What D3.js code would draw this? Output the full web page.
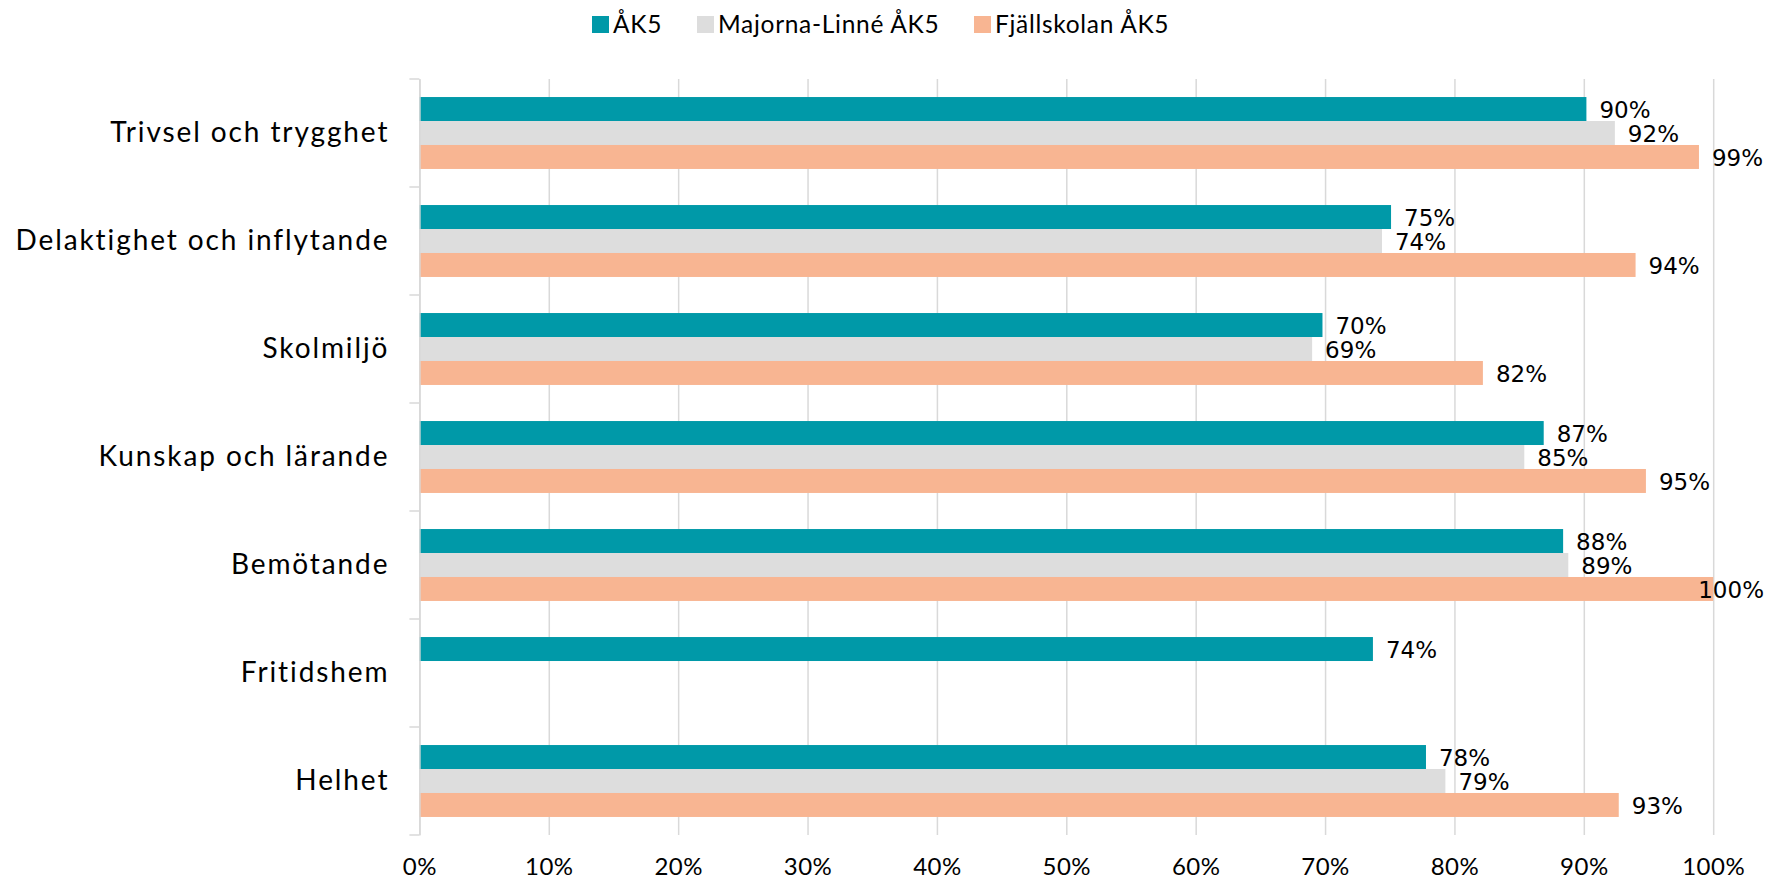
<!DOCTYPE html>
<html>
<head>
<meta charset="utf-8">
<script src="https://cdn.jsdelivr.net/npm/d3@7"></script>
<style>
  body { margin: 0; background: #fff; }
  svg { display: block; }
</style>
</head>
<body>
<div id="vis"></div>
<script>
const FRAME_WIDTH = 1767;
const FRAME_HEIGHT = 879;
const MARGINS = {left: 419.4, right: 53.8, top: 79, bottom: 44};

// data
const categories = ["Trivsel och trygghet", "Delaktighet och inflytande", "Skolmiljö",
                    "Kunskap och lärande", "Bemötande", "Fritidshem", "Helhet"];
const seriesNames = ["ÅK5", "Majorna-Linné ÅK5", "Fjällskolan ÅK5"];
const ak5 =     [0.902, 0.751, 0.698, 0.869, 0.884, 0.737, 0.778];
const majorna = [0.924, 0.744, 0.690, 0.854, 0.888, null, 0.793];
const fjall =   [0.989, 0.940, 0.822, 0.948, 1.000, null, 0.927];
const xTicks = [0, 0.1, 0.2, 0.3, 0.4, 0.5, 0.6, 0.7, 0.8, 0.9, 1.0];

const colors = ["#0099a8", "#dddddd", "#f8b592"];
const seriesValues = [ak5, majorna, fjall];

const VIS_WIDTH = FRAME_WIDTH - MARGINS.left - MARGINS.right;
const VIS_HEIGHT = FRAME_HEIGHT - MARGINS.top - MARGINS.bottom;

const FRAME = d3.select("#vis")
  .append("svg")
    .attr("width", FRAME_WIDTH)
    .attr("height", FRAME_HEIGHT);

const X_SCALE = d3.scaleLinear().domain([0, 1]).range([MARGINS.left, MARGINS.left + VIS_WIDTH]);
const Y_SCALE = d3.scaleBand().domain(categories)
                  .range([MARGINS.top, MARGINS.top + VIS_HEIGHT]);
const bw = Y_SCALE.bandwidth();
const SUB_SCALE = d3.scaleBand().domain(seriesNames).range([bw * 0.167, bw * 0.833]);

// vertical gridlines + bottom labels
const xAxis = FRAME.append("g")
  .attr("transform", "translate(0," + (MARGINS.top + VIS_HEIGHT) + ")")
  .call(d3.axisBottom(X_SCALE)
          .tickValues(xTicks)
          .tickFormat(d3.format(".0%"))
          .tickSizeInner(-VIS_HEIGHT)
          .tickSizeOuter(0)
          .tickPadding(23));
xAxis.select(".domain").remove();
xAxis.selectAll(".tick line").attr("stroke", "#d9d9d9").attr("stroke-width", 1.5);
xAxis.selectAll(".tick text")
  .attr("font-family", "Lato, sans-serif")
  .attr("font-size", "24px")
  .attr("letter-spacing", "0.5px")
  .attr("fill", "#000");

// bars
const rows = [];
categories.forEach((c, i) => {
  seriesNames.forEach((s, j) => {
    if (seriesValues[j][i] != null) rows.push({cat: c, series: s, idx: j, value: seriesValues[j][i]});
  });
});

FRAME.selectAll(".bar")
  .data(rows)
  .enter()
  .append("rect")
    .attr("class", "bar")
    .attr("x", X_SCALE(0))
    .attr("y", d => Y_SCALE(d.cat) + SUB_SCALE(d.series))
    .attr("width", d => X_SCALE(d.value) - X_SCALE(0))
    .attr("height", SUB_SCALE.bandwidth())
    .attr("fill", d => colors[d.idx]);

// value labels, kept inside the chart area like Excel does
const RIGHT_EDGE = FRAME_WIDTH - 3;
FRAME.selectAll(".lbl")
  .data(rows)
  .enter()
  .append("text")
    .attr("class", "lbl")
    .attr("y", d => Y_SCALE(d.cat) + SUB_SCALE(d.series) + SUB_SCALE.bandwidth() / 2 + 9)
    .attr("font-family", "'DejaVu Sans', sans-serif")
    .attr("font-size", "23px")
    .attr("fill", "#000")
    .text(d => d3.format(".0%")(d.value))
    .attr("x", function(d) {
      const w = this.getComputedTextLength();
      return Math.min(X_SCALE(d.value) + 13, RIGHT_EDGE - w);
    });

// left axis line and category ticks
const yAxis = FRAME.append("g")
  .attr("transform", "translate(" + MARGINS.left + ",0)")
  .call(d3.axisLeft(Y_SCALE).tickSize(0).tickPadding(30));
yAxis.select(".domain").attr("stroke", "#d9d9d9").attr("stroke-width", 1.5);
yAxis.selectAll(".tick text")
  .attr("font-family", "Lato, sans-serif")
  .attr("font-size", "28px")
  .attr("letter-spacing", "1.9px")
  .attr("fill", "#000");

const bounds = categories.map(c => Y_SCALE(c)).concat([MARGINS.top + VIS_HEIGHT]);
FRAME.selectAll(".ytick")
  .data(bounds)
  .enter()
  .append("line")
    .attr("x1", MARGINS.left - 10)
    .attr("x2", MARGINS.left)
    .attr("y1", d => d)
    .attr("y2", d => d)
    .attr("stroke", "#d9d9d9")
    .attr("stroke-width", 1.5);

// legend
const legendX = [0, 105, 382];
const legend = FRAME.append("g").attr("transform", "translate(592,16)");
seriesNames.forEach((s, i) => {
  const item = legend.append("g").attr("transform", "translate(" + legendX[i] + ",0)");
  item.append("rect").attr("width", 17).attr("height", 17).attr("fill", colors[i]);
  item.append("text")
    .attr("x", 21)
    .attr("y", 17)
    .attr("font-family", "Lato, sans-serif")
    .attr("font-size", "24.5px")
    .attr("letter-spacing", "0.7px")
    .attr("fill", "#000")
    .text(s);
});
</script>
</body>
</html>
